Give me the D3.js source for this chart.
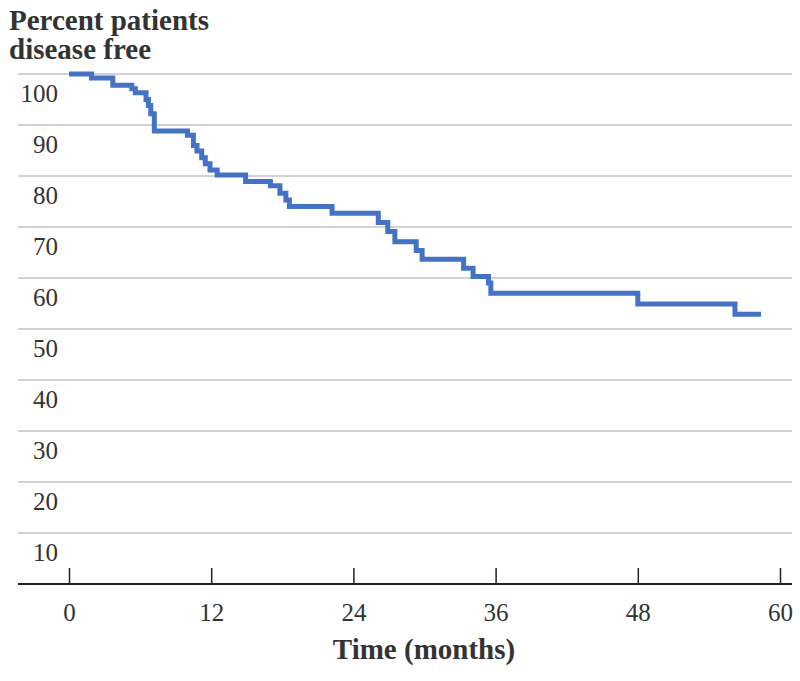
<!DOCTYPE html>
<html>
<head>
<meta charset="utf-8">
<script src="https://cdn.jsdelivr.net/npm/d3@7"></script>
<style>
  html, body { margin: 0; padding: 0; background: #fff; }
  svg { display: block; }
  text { font-family: "Liberation Serif", "Times New Roman", serif; fill: #333; }
</style>
</head>
<body>
<svg id="chart" width="800" height="681"></svg>
<script>
// ---- data ----
const months = [0, 1.9, 3.7, 5.3, 5.6, 6.5, 6.7, 6.9, 7.2, 10.0, 10.5, 10.8, 11.2, 11.5, 11.9, 12.5,
  14.9, 17.0, 17.8, 18.3, 18.6, 22.2, 26.1, 26.9, 27.5, 29.3, 29.8, 33.3, 34.1, 35.4, 35.6, 48.0, 56.2, 58.4];
const percentFree = [100, 99.2, 97.8, 97.1, 96.3, 95.0, 93.8, 92.2, 88.8, 88.0, 86.0, 84.9, 83.6, 82.4, 81.2, 80.2,
  78.9, 78.1, 76.6, 75.3, 74.0, 72.7, 70.9, 69.1, 67.1, 65.4, 63.7, 61.9, 60.3, 59.0, 57.0, 54.9, 52.9, 52.9];
const xTicks = [0, 12, 24, 36, 48, 60];
const yTicks = [10, 20, 30, 40, 50, 60, 70, 80, 90, 100];
const yTitleLines = ["Percent patients", "disease free"];
const xTitle = "Time (months)";

// ---- chart ----
const svg = d3.select("#chart");
const x = d3.scaleLinear().domain([0, 60]).range([69, 780]);
const y = d3.scaleLinear().domain([0, 100]).range([584, 74]);
const left = 18, right = 792;

// gridlines
svg.append("g").selectAll("line").data(yTicks).join("line")
  .attr("x1", left).attr("x2", right)
  .attr("y1", d => y(d)).attr("y2", d => y(d))
  .attr("stroke", "#c3c3c3").attr("stroke-width", 1.5);

// y labels
svg.append("g").selectAll("text").data(yTicks).join("text")
  .attr("x", 58).attr("y", d => y(d) + 28)
  .attr("text-anchor", "end")
  .attr("font-size", 25)
  .text(d => d);

// x axis
const xAxis = svg.append("g").attr("transform", `translate(0,${y(0)})`)
  .call(d3.axisBottom(x).tickValues(xTicks).tickSizeInner(-16).tickSizeOuter(0));
xAxis.select(".domain").remove();
xAxis.selectAll(".tick line").attr("stroke", "#222").attr("stroke-width", 1.5);
xAxis.selectAll(".tick text")
  .attr("y", 37).attr("dy", 0)
  .attr("font-size", 25)
  .attr("font-family", "Liberation Serif, Times New Roman, serif")
  .attr("fill", "#333");
svg.append("line")
  .attr("x1", left).attr("x2", right)
  .attr("y1", y(0)).attr("y2", y(0))
  .attr("stroke", "#222").attr("stroke-width", 2);

// curve
const pts = months.map((m, i) => [m, percentFree[i]]);
svg.append("path")
  .datum(pts)
  .attr("fill", "none")
  .attr("stroke", "#4472C4")
  .attr("stroke-width", 5)
  .attr("stroke-linejoin", "miter")
  .attr("d", d3.line().x(d => x(d[0])).y(d => y(d[1])).curve(d3.curveStepAfter));

// titles
svg.append("g").selectAll("text").data(yTitleLines).join("text")
  .attr("x", 9).attr("y", (d, i) => 30 + i * 29)
  .attr("font-size", 29).attr("font-weight", "bold")
  .text(d => d);

svg.append("text")
  .attr("x", 424).attr("y", 659)
  .attr("text-anchor", "middle")
  .attr("font-size", 29).attr("font-weight", "bold")
  .text(xTitle);
</script>
</body>
</html>
